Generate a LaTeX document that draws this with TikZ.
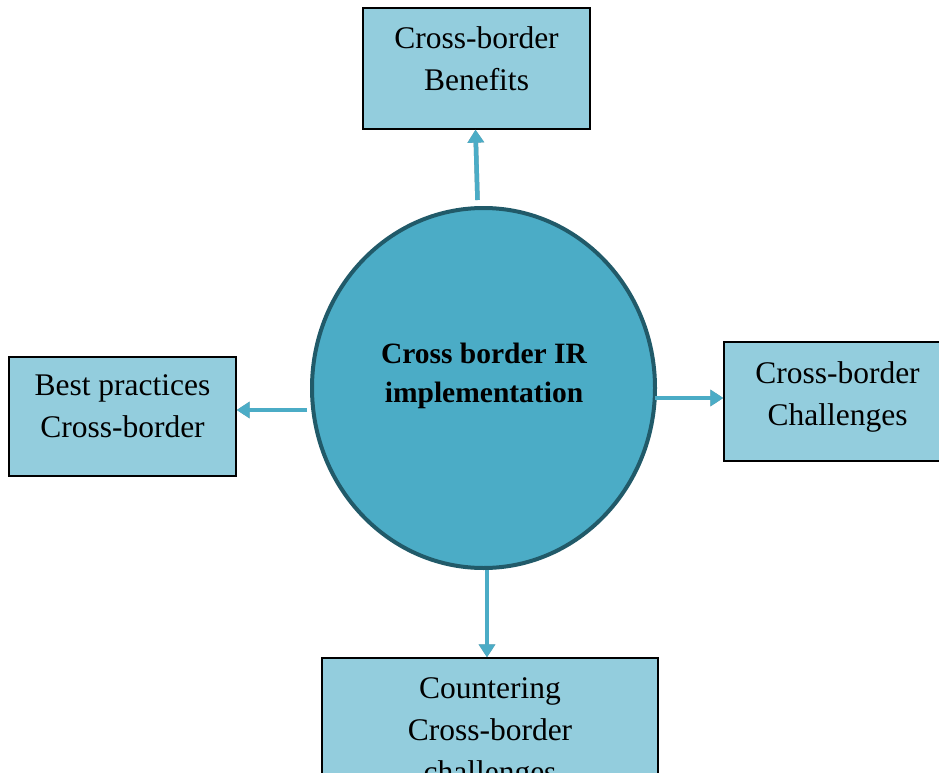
\documentclass[tikz,border=0pt]{standalone}
\usepackage{fontspec}
\setmainfont{Liberation Serif}
\usetikzlibrary{shapes.geometric,arrows.meta}
\definecolor{boxfill}{HTML}{93CDDD}
\definecolor{circfill}{HTML}{4BACC6}
\definecolor{circline}{HTML}{215A69}
\definecolor{arrblue}{HTML}{4BACC6}
\definecolor{shadowgray}{HTML}{A6A6A6}
\tikzset{
  box/.style={draw=black, line width=1.3pt, fill=boxfill, rectangle, inner sep=0pt},
  boxtext/.style={anchor=north, align=center, inner sep=0pt, font=\fontsize{31.5}{42}\selectfont},
  hub/.style={draw=circline, line width=4pt, fill=circfill, ellipse, inner sep=0pt,
    minimum width=343pt, minimum height=360pt},
  hubtext/.style={anchor=north, align=center, inner sep=0pt, font=\fontsize{29.5}{39}\selectfont\bfseries},
  arr/.style={draw=arrblue, line width=4.5pt, -{Triangle[width=16pt,length=13pt]}},
  arrshadow/.style={draw=shadowgray, line width=4.5pt, -{Triangle[width=16pt,length=13pt]}}
}
\begin{document}
\begin{tikzpicture}[x=1pt,y=-1pt]
\useasboundingbox (0,0) rectangle (939,773);
% boxes
\node[box, minimum width=227pt, minimum height=121pt] (top) at (476.5,68.5) {};
\node[box, minimum width=227pt, minimum height=119pt] (left) at (122.5,416.5) {};
\node[box, minimum width=227pt, minimum height=119pt] (right) at (837.5,401.5) {};
\node[box, minimum width=336pt, minimum height=140pt] (bot) at (490,728) {};
% hub
\node[hub] (c) at (483.5,388) {};
% texts
\node[boxtext] (toptext) at (476.5,26.5) {Cross-border\\Benefits};
\node[boxtext] (lefttext) at (122.5,374.5) {Best practices\\Cross-border};
\node[boxtext] (righttext) at (837.5,361.5) {Cross-border\\Challenges};
\node[boxtext] (bottext) at (490,677.5) {Countering\\Cross-border\\challenges};
\node[hubtext] (ctext) at (484,342.7) {Cross border IR\\implementation};
% arrow shadows
\begin{scope}[shift={(1pt,-3.5pt)}]
\draw[arrshadow] ([shift={(-6pt,6pt)}]c.north) -- ([xshift=-1pt]top.south);
\draw[arrshadow] ([shift={(-3pt,-22pt)}]c.west) -- ([yshift=6.5pt]left.east);
\draw[arrshadow] ([shift={(-2pt,-10pt)}]c.east) -- ([yshift=3.5pt]right.west);
\draw[arrshadow] ([xshift=3.5pt]c.south) -- ([xshift=-3pt]bot.north);
\end{scope}
% arrows
\draw[arr] ([shift={(-6pt,6pt)}]c.north) -- ([xshift=-1pt]top.south);
\draw[arr] ([shift={(-3pt,-22pt)}]c.west) -- ([yshift=6.5pt]left.east);
\draw[arr] ([shift={(-2pt,-10pt)}]c.east) -- ([yshift=3.5pt]right.west);
\draw[arr] ([xshift=3.5pt]c.south) -- ([xshift=-3pt]bot.north);
\end{tikzpicture}
\end{document}
